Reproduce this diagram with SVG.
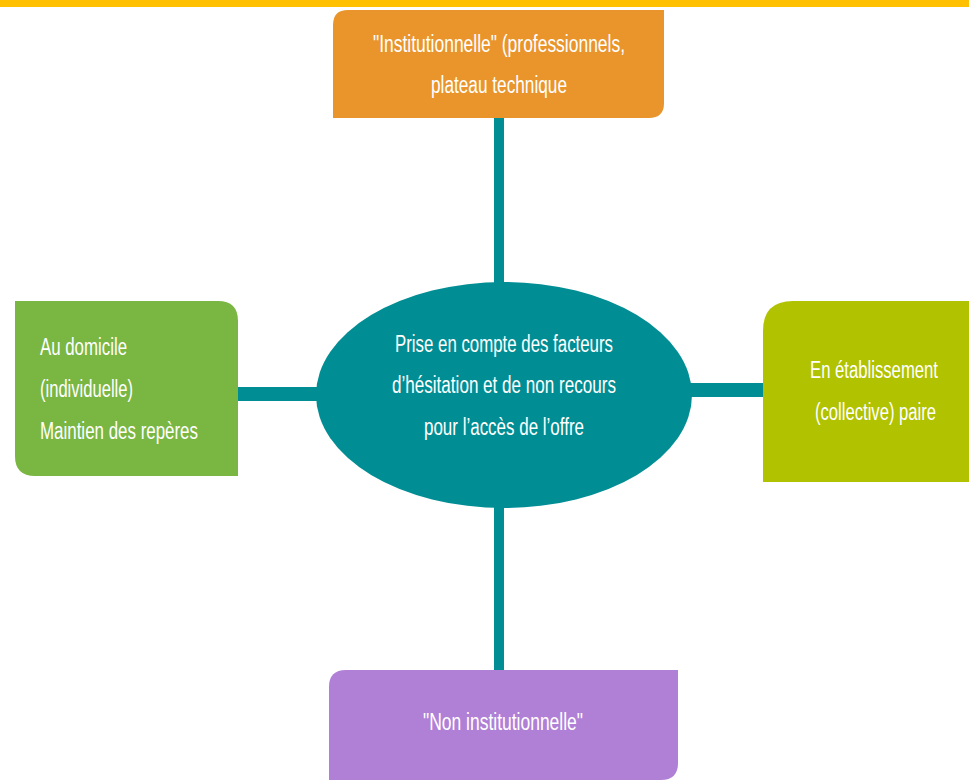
<svg xmlns="http://www.w3.org/2000/svg" width="969" height="780" viewBox="0 0 969 780">
<style>
  .t { font-family: "Liberation Sans Narrow", "Liberation Sans", Arial, sans-serif; font-size: 23px; fill: #ffffff; }
  .c { stroke: #008E94; fill: none; }
</style>
<rect x="0" y="0" width="969" height="780" fill="#ffffff"/>
<rect x="0" y="0" width="969" height="7" fill="#FFC000"/>
<g id="connectors">
  <line class="c" x1="499" y1="118" x2="499" y2="284" stroke-width="10"/>
  <line class="c" x1="499" y1="506" x2="499" y2="671" stroke-width="10"/>
  <line class="c" x1="238" y1="394" x2="318" y2="394" stroke-width="14"/>
  <line class="c" x1="690" y1="390" x2="764" y2="390" stroke-width="14"/>
</g>
<g id="node-institutionnelle">
  <path d="M348,10 H664 V103 Q664,118 649,118 H333 V25 Q333,10 348,10 Z" fill="#E9952C"/>
  <text class="t" x="373" y="52" textLength="252" lengthAdjust="spacingAndGlyphs">"Institutionnelle" (professionnels,</text>
  <text class="t" x="431" y="93" textLength="136" lengthAdjust="spacingAndGlyphs">plateau technique</text>
</g>
<g id="node-domicile">
  <path d="M15,301 H218 Q238,301 238,321 V476 H35 Q15,476 15,456 Z" fill="#7AB642"/>
  <text class="t" x="40" y="355" textLength="87" lengthAdjust="spacingAndGlyphs">Au domicile</text>
  <text class="t" x="40" y="397" textLength="93" lengthAdjust="spacingAndGlyphs">(individuelle)</text>
  <text class="t" x="40" y="439" textLength="158" lengthAdjust="spacingAndGlyphs">Maintien des repères</text>
</g>
<g id="node-etablissement">
  <path d="M793,301 H969 V482 H763 V331 Q763,301 793,301 Z" fill="#B1C200"/>
  <text class="t" x="810" y="378" textLength="128" lengthAdjust="spacingAndGlyphs">En établissement</text>
  <text class="t" x="815" y="420" textLength="121" lengthAdjust="spacingAndGlyphs">(collective) paire</text>
</g>
<g id="node-center">
  <ellipse cx="504" cy="395" rx="188" ry="113" fill="#008E94"/>
  <text class="t" x="395" y="352" textLength="218" lengthAdjust="spacingAndGlyphs">Prise en compte des facteurs</text>
  <text class="t" x="392" y="393" textLength="224" lengthAdjust="spacingAndGlyphs">d’hésitation et de non recours</text>
  <text class="t" x="424" y="435" textLength="160" lengthAdjust="spacingAndGlyphs">pour l’accès de l’offre</text>
</g>
<g id="node-non-institutionnelle">
  <path d="M346,670 H678 V763 Q678,780 661,780 H329 V687 Q329,670 346,670 Z" fill="#B07FD6"/>
  <text class="t" x="423" y="730" textLength="160" lengthAdjust="spacingAndGlyphs">"Non institutionnelle"</text>
</g>
</svg>
